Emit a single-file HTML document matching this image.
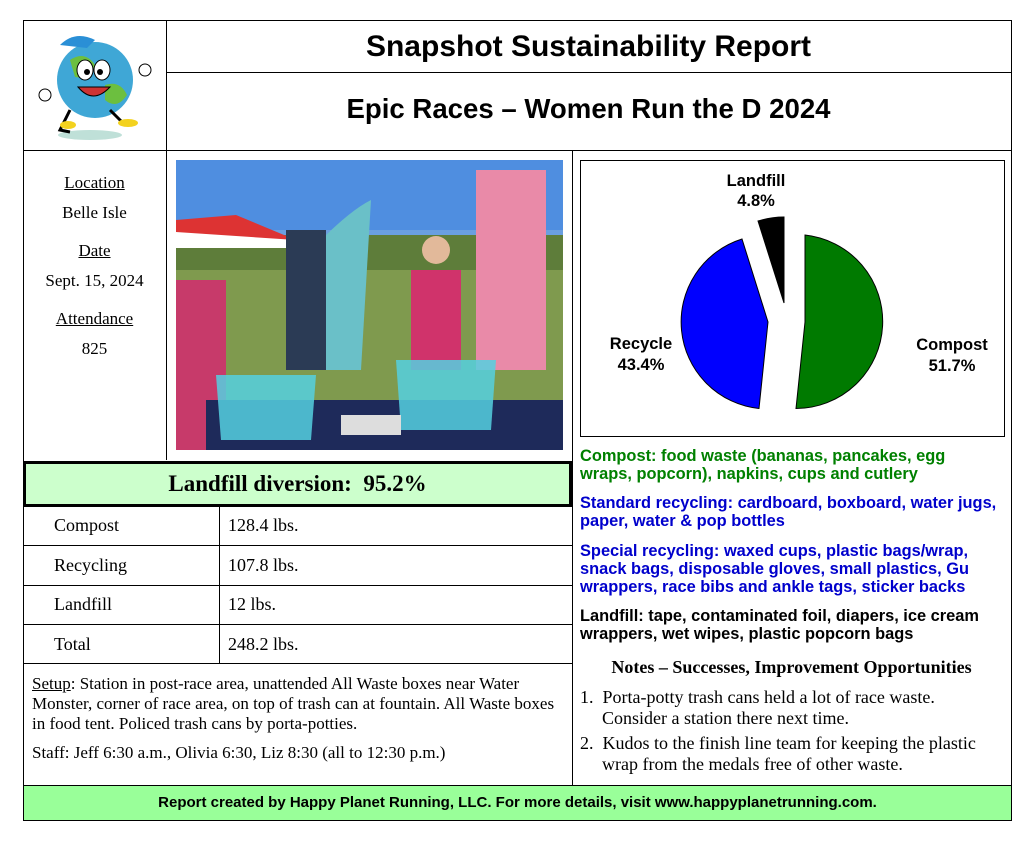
<!DOCTYPE html>
<html><head><meta charset="utf-8"><style>
body{margin:0;width:1033px;height:843px;background:#fff;position:relative;overflow:hidden;font-family:"Liberation Serif",serif;}
.a{position:absolute;}
.s{font-family:"Liberation Sans",sans-serif;}
.hl{position:absolute;height:1px;background:#000;}
.vl{position:absolute;width:1px;background:#000;}
.c{text-align:center;}
.r{font-family:"Liberation Sans",sans-serif;font-weight:bold;font-size:16.4px;line-height:18px;position:absolute;left:580px;width:424px;}
</style></head><body>
<div class="vl" style="left:166px;top:20px;height:440px"></div>
<div class="hl" style="left:166px;top:72px;width:845px"></div>
<div class="hl" style="left:23px;top:150px;width:988px"></div>
<div class="vl" style="left:572px;top:150px;height:635px"></div>
<div class="a s c" style="left:166px;top:30px;width:845px;font-size:30px;font-weight:bold;">Snapshot Sustainability Report</div>
<div class="a s c" style="left:166px;top:93px;width:845px;font-size:27.6px;font-weight:bold;">Epic Races – Women Run the D 2024</div>
<!-- logo -->
<svg class="a" style="left:30px;top:25px" width="130" height="120">
<ellipse cx="60" cy="110" rx="32" ry="5" fill="#bfe0d8"/>
<circle cx="65" cy="55" r="38" fill="#3fa7d6"/>
<path d="M40 35 q15 -10 25 5 q-5 15 -20 12z M75 60 q15 -5 22 10 q-10 15 -22 5z" fill="#6cbf3f"/>
<ellipse cx="55" cy="45" rx="8" ry="10" fill="#fff" stroke="#000"/><ellipse cx="72" cy="45" rx="8" ry="10" fill="#fff" stroke="#000"/>
<circle cx="57" cy="47" r="3"/><circle cx="70" cy="47" r="3"/>
<path d="M48 62 q15 18 32 0z" fill="#c33" stroke="#000"/>
<path d="M30 20 q15 -15 35 -5 l-8 8z" fill="#2a8fd6"/>
<path d="M40 85 l-10 20 l10 2 M80 85 l15 15" stroke="#000" stroke-width="3" fill="none"/>
<ellipse cx="38" cy="100" rx="8" ry="4" fill="#f3d21f"/><ellipse cx="98" cy="98" rx="10" ry="4" fill="#f3d21f"/>
<circle cx="15" cy="70" r="6" fill="#fff" stroke="#000"/><circle cx="115" cy="45" r="6" fill="#fff" stroke="#000"/>
</svg>
<!-- left info -->
<div class="a c" style="left:23px;top:168px;width:143px;font-size:17px;line-height:30px;">
<div style="text-decoration:underline">Location</div><div>Belle Isle</div>
<div style="text-decoration:underline;margin-top:8px">Date</div><div>Sept. 15, 2024</div>
<div style="text-decoration:underline;margin-top:8px">Attendance</div><div>825</div></div>
<!-- photo -->
<svg class="a" style="left:176px;top:160px" width="387" height="290">
<rect width="387" height="290" fill="#6a9fe0"/>
<rect y="0" width="387" height="70" fill="#4f8ee0"/>
<rect y="75" width="387" height="40" fill="#5e7d3a"/>
<rect y="110" width="387" height="180" fill="#7f9a4e"/>
<path d="M0 60 L60 55 L120 80 L0 85z" fill="#d33"/>
<path d="M0 72 L120 80 L120 88 L0 88z" fill="#fff"/>
<rect x="300" y="10" width="70" height="200" fill="#e98aa8"/>
<path d="M145 80 q30 -30 50 -40 l-10 170 l-40 0z" fill="#6ac0c8"/>
<rect x="110" y="70" width="40" height="140" fill="#2b3b55"/>
<rect x="235" y="110" width="50" height="100" fill="#d0336b"/>
<circle cx="260" cy="90" r="14" fill="#e2b99a"/>
<rect x="0" y="120" width="50" height="170" fill="#c73a6a"/>
<rect x="30" y="240" width="357" height="50" fill="#1e2a5a"/>
<path d="M40 215 l100 0 l-5 65 l-90 0z" fill="#55d0e0" opacity=".85"/>
<path d="M220 200 l100 0 l-5 70 l-90 0z" fill="#55d0e0" opacity=".85"/>
<rect x="165" y="255" width="60" height="20" fill="#ddd"/>
</svg>
<!-- diversion -->
<div class="a c" style="left:23px;top:461px;width:543px;height:40px;border:3px solid #000;background:#ccffcc;font-size:23px;font-weight:bold;line-height:40px;">Landfill diversion:&nbsp; 95.2%</div>
<div class="hl" style="left:23px;top:545px;width:549px"></div>
<div class="hl" style="left:23px;top:585px;width:549px"></div>
<div class="hl" style="left:23px;top:624px;width:549px"></div>
<div class="hl" style="left:23px;top:663px;width:549px"></div>
<div class="vl" style="left:219px;top:505px;height:158px"></div>
<div class="a" style="left:54px;top:506px;font-size:18px;line-height:39.5px;">Compost<br>Recycling<br>Landfill<br>Total</div>
<div class="a" style="left:228px;top:506px;font-size:18px;line-height:39.5px;">128.4 lbs.<br>107.8 lbs.<br>12 lbs.<br>248.2 lbs.</div>
<div class="a" style="left:32px;top:674px;width:537px;font-size:17px;line-height:20px;"><u>Setup</u>: Station in post-race area, unattended All Waste boxes near Water Monster, corner of race area, on top of trash can at fountain. All Waste boxes in food tent. Policed trash cans by porta-potties.<div style="margin-top:9px">Staff: Jeff 6:30 a.m., Olivia 6:30, Liz 8:30 (all to 12:30 p.m.)</div></div>
<!-- footer -->
<div class="a s c" style="left:24px;top:785px;width:987px;height:34px;border-top:1px solid #000;background:#99ff99;font-size:15px;font-weight:bold;line-height:33px;">Report created by Happy Planet Running, LLC. For more details, visit www.happyplanetrunning.com.</div>
<div class="a" style="left:23px;top:20px;width:987px;height:799px;border:1px solid #000;"></div>
<!-- pie -->
<svg class="a" style="left:580px;top:160px" width="426" height="278">
<rect x="0.5" y="0.5" width="424" height="276" fill="#fff" stroke="#000"/>
<g transform="translate(-580,-160)" stroke="#000" stroke-width="1">
<path d="M805 322 L805 235 A87 87 0 0 1 796 408.5 Z" fill="#007a00"/>
<path d="M768 322 L759 408.5 A87 87 0 0 1 742 239 Z" fill="#0000ff"/>
<path d="M784 303 L758 221 A86 86 0 0 1 784 217 Z" fill="#000"/>
</g>
<g font-family="Liberation Sans,sans-serif" font-weight="bold" font-size="16.5" text-anchor="middle">
<text x="176" y="26">Landfill</text><text x="176" y="46">4.8%</text>
<text x="61" y="189">Recycle</text><text x="61" y="210">43.4%</text>
<text x="372" y="190">Compost</text><text x="372" y="211">51.7%</text>
</g></svg>
<div class="r" style="top:447px;color:#008000">Compost: food waste (bananas, pancakes, egg<br>wraps, popcorn), napkins, cups and cutlery</div>
<div class="r" style="top:494px;color:#0000cc">Standard recycling: cardboard, boxboard, water jugs, paper, water &amp; pop bottles</div>
<div class="r" style="top:542px;color:#0000cc">Special recycling: waxed cups, plastic bags/wrap,<br>snack bags, disposable gloves, small plastics, Gu<br>wrappers, race bibs and ankle tags, sticker backs</div>
<div class="r" style="top:607px;color:#000">Landfill: tape, contaminated foil, diapers, ice cream<br>wrappers, wet wipes, plastic popcorn bags</div>
<div class="a c" style="left:572px;top:657px;width:439px;font-size:18px;font-weight:bold;">Notes – Successes, Improvement Opportunities</div>
<div class="a" style="left:580px;top:687px;width:428px;font-size:18px;line-height:21px;">
<div style="padding-left:22px;text-indent:-22px">1.&nbsp; Porta-potty trash cans held a lot of race waste.<br>Consider a station there next time.</div>
<div style="padding-left:22px;text-indent:-22px;margin-top:4px">2.&nbsp; Kudos to the finish line team for keeping the plastic<br>wrap from the medals free of other waste.</div></div>
</body></html>
